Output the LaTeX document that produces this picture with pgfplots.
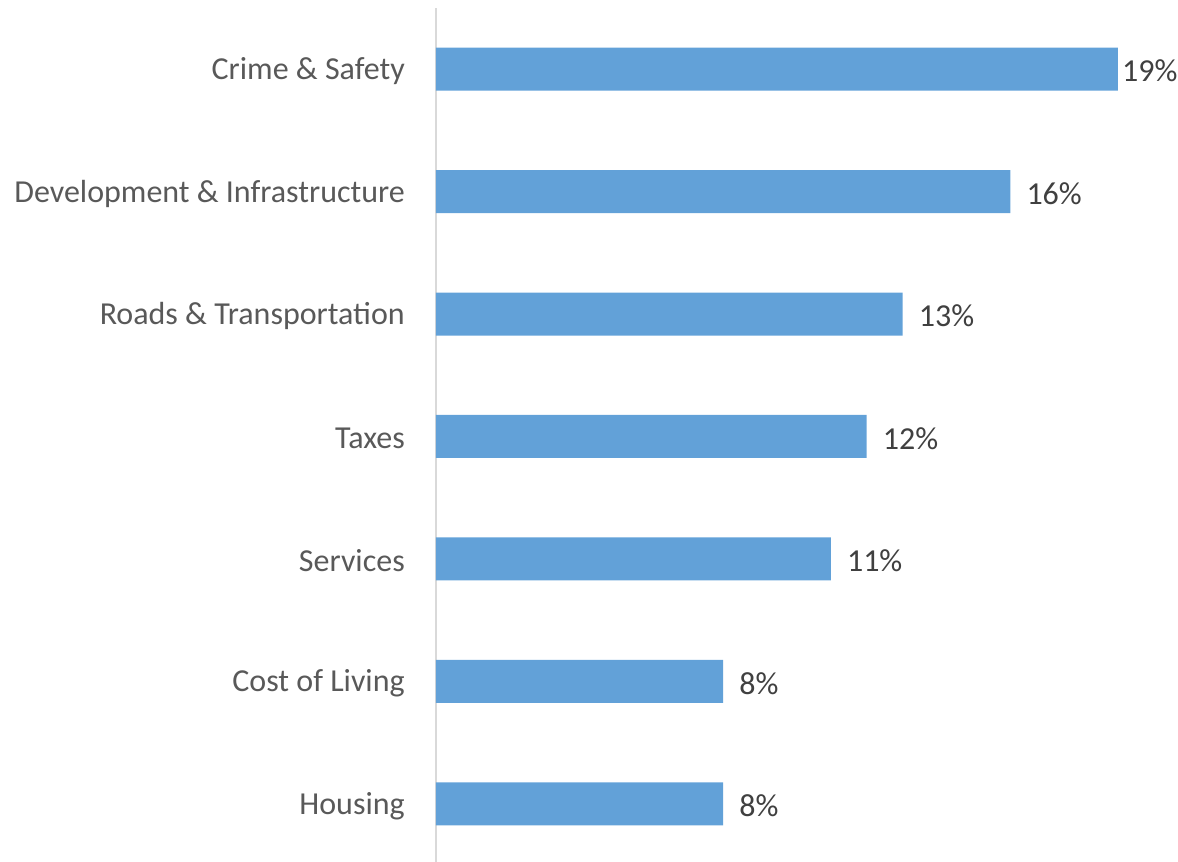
\documentclass[border=0pt]{standalone}
\usepackage{pgfplots}
\pgfplotsset{compat=1.18}
\usepackage{pgfplotstable}
\usepackage{fontspec}
\setmainfont{Carlito}
\definecolor{barblue}{HTML}{62A1D8}
\definecolor{lblgray}{HTML}{595959}
\definecolor{numgray}{HTML}{404040}
\definecolor{axgray}{HTML}{D9D9D9}
\pgfplotstableread{
y val off
0 8 16
1 8 16
2 11 16
3 12 16
4 13 16
5 16 16
6 19 4
}\data
\begin{document}
\begin{tikzpicture}[x=1pt,y=1pt]
\begin{axis}[
  at={(0,0)}, anchor=south west,
  scale only axis, width=682pt, height=857pt,
  xmin=0, xmax=19, ymin=-0.5, ymax=6.5,
  axis x line=none,
  axis y line*=left,
  y axis line style={draw=axgray, line width=1.5pt},
  ytick={0,...,6},
  yticklabels={Housing,Cost of Living,Services,Taxes,Roads \& Transportation,Development \& Infrastructure,Crime \& Safety},
  ytick style={draw=none},
  yticklabel style={font=\fontsize{32}{38}\selectfont, text=lblgray, inner sep=0pt, anchor=east, xshift=-31pt, yshift=-2pt},
  /pgf/number format/assume math mode=true,
  clip=false,
]
\addplot[xbar, bar width=43pt, fill=barblue, draw=none,
  nodes near coords={\pgfmathprintnumber{\pgfplotspointmeta}\%},
  visualization depends on={\thisrow{off} \as \off},
  nodes near coords style={anchor=west, inner sep=0pt, xshift=\off pt, yshift=-2pt, font=\fontsize{32}{38}\selectfont, text=numgray}]
  table[x=val, y=y, meta=val]{\data};
\end{axis}
\pgfresetboundingbox
\path (-436,3) rectangle (742,865);
\end{tikzpicture}
\end{document}
